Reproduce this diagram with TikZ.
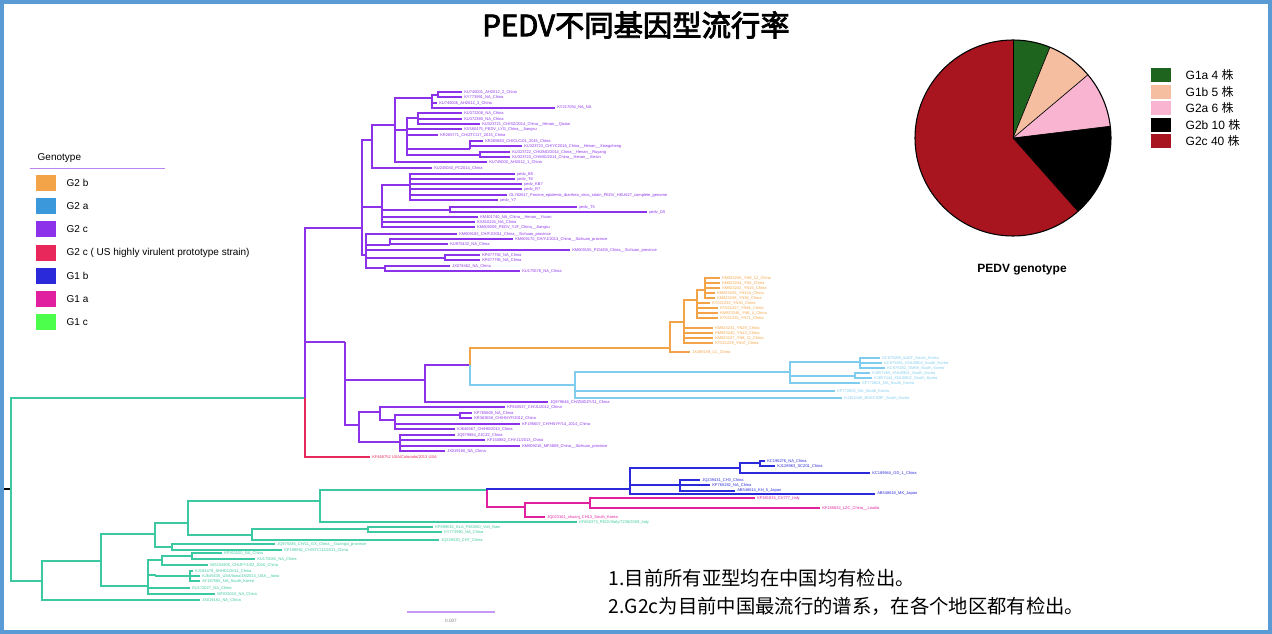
\documentclass[tikz,border=0pt]{standalone}
\usepackage{fontspec}
\setmainfont{Liberation Sans}
\newfontfamily\cjk{Noto Sans CJK SC}
\newfontfamily\cjkb{Noto Sans CJK SC}[FakeBold=3]
\definecolor{tl}{RGB}{60,200,160}
\definecolor{pu}{RGB}{140,50,235}
\definecolor{rd}{RGB}{232,40,90}
\definecolor{og}{RGB}{244,164,72}
\definecolor{lb}{RGB}{128,204,238}
\definecolor{bu}{RGB}{42,42,219}
\definecolor{mg}{RGB}{224,32,159}
\definecolor{gk}{RGB}{30,100,30}
\definecolor{pc}{RGB}{245,190,160}
\definecolor{pk}{RGB}{248,180,208}
\definecolor{dr}{RGB}{168,21,30}
\definecolor{frame}{RGB}{91,155,213}
\tikzset{br/.style={line width=1.4pt},lab/.style={font=\fontsize{3}{3.5}\selectfont,inner sep=1pt,anchor=west},
legbox/.style={minimum width=15pt,minimum height=12pt,inner sep=0pt},
legtxt/.style={font=\fontsize{7.5}{9}\selectfont,anchor=west}}
\newcommand\nd[5]{\draw[br,#1] (#2) |- (#3,#4) coordinate (#5);}
\newcommand\lf[5]{\draw[br,#1] (#2) |- (#3,#4) node[lab,text=#1] {#5};}
\begin{document}
\begin{tikzpicture}[x=0.75pt,y=-0.75pt]
\useasboundingbox (0,0) rectangle (1272,634);
\draw[frame,line width=2.5pt] (2,2) rectangle (1270,632);
\node[font=\cjkb\fontsize{22}{24}\selectfont] (title) at (636,25) {PEDV不同基因型流行率};
% left legend
\node[font=\fontsize{7.5}{9}\selectfont,anchor=west] (gt) at (33,158) {Genotype};
\draw[pu!60,line width=0.6pt] (30,168) -- (165,168);
\foreach \y/\c/\t [count=\i] in {183/og/G2 b,206/cyan!70!blue!80/G2 a,229/pu/G2 c,253/rd/{G2 c ( US highly virulent prototype strain)},276/bu/G1 b,299/mg/G1 a,322/green!70!white/G1 c}{
 \node[legbox,fill=\c] (lb\i) at (46,\y) {};
 \node[legtxt] (lt\i) at (62,\y) {\t};}
% tree
\coordinate (R) at (11,490);
\draw[line width=1.6pt] (4,489) -- (12,489);
\nd{tl}{R}{305}{398}{TP}
\nd{pu}{TP}{362}{228}{A0}
\lf{rd}{TP}{370}{457}{KF468752 USA/Colorado/2013 USA}
\nd{pu}{TP}{345}{342}{P0}
% clade A
\nd{pu}{A0}{372}{140}{A1}
\nd{pu}{A0}{382}{207}{A2}
\nd{pu}{A0}{366}{255}{A3}
\nd{pu}{A1}{395}{125}{B1}
\lf{pu}{A1}{432}{168}{KU245040\_PC2014\_China}
\nd{pu}{B1}{432}{98}{C1}
\nd{pu}{B1}{407}{130}{C2}
\lf{pu}{B1}{487}{162}{KU745000\_AH2012\_1\_China}
\nd{pu}{C1}{438}{95}{D1}
\lf{pu}{D1}{462}{92}{KU745001\_AH2012\_2\_China}
\lf{pu}{D1}{462}{97}{KY773991\_NA\_China}
\lf{pu}{C1}{437}{103}{KU745006\_AH2012\_3\_China}
\lf{pu}{C1}{555}{108}{KY217054\_NA\_NA}
\nd{pu}{C2}{418}{118}{D2}
\lf{pu}{D2}{462}{113}{KU372208\_NA\_China}
\lf{pu}{D2}{462}{119}{KU372380\_NA\_China}
\lf{pu}{D2}{480}{124}{KU323721\_CH/SZ/2014\_China\_\_Henan\_\_Qixian}
\lf{pu}{C2}{462}{129}{KX580475\_PEDV\_LYG\_China\_\_Jiangsu}
\lf{pu}{C2}{438}{135}{KR265771\_CH/ZTC/17\_2015\_China}
\nd{pu}{C2}{470}{149}{D3}
\lf{pu}{D3}{483}{141}{KR265863\_CH/CLC/01\_2015\_China}
\lf{pu}{D3}{522}{146}{KU323723\_CH/YC2016\_China\_\_Henan\_\_Xiangcheng}
\nd{pu}{C2}{480}{155}{D4}
\lf{pu}{D4}{510}{152}{KU323722\_CH/ZMD/2014\_China\_\_Henan\_\_Ruyang}
\lf{pu}{D4}{510}{157}{KU323723\_CH/MD/2014\_China\_\_Henan\_\_Xiexin}
\nd{pu}{A2}{410}{185}{E1}
\lf{pu}{E1}{515}{174}{pedv\_B5}
\lf{pu}{E1}{515}{179}{pedv\_T6}
\lf{pu}{E1}{522}{184}{pedv\_KB7}
\lf{pu}{E1}{522}{189}{pedv\_R7}
\lf{pu}{E1}{507}{195}{OL782617\_Porcine\_epidemic\_diarrhea\_virus\_strain\_PEDV\_HKU627\_complete\_genome}
\lf{pu}{E1}{498}{200}{pedv\_Y7}
\nd{pu}{A2}{450}{210}{E2}
\lf{pu}{E2}{577}{207}{pedv\_T5}
\lf{pu}{E2}{647}{212}{pedv\_D5}
\lf{pu}{A2}{478}{217}{KM401740\_NA\_China\_\_Henan\_\_Yixian}
\lf{pu}{A2}{475}{222}{KX810224\_NA\_China}
\lf{pu}{A2}{475}{227}{KM609209\_PEDV\_YJF\_China\_\_Jiangsu}
\lf{pu}{A3}{457}{234}{KM609183\_CH/FJ/2011\_China\_\_Sichuan\_province}
\nd{pu}{A3}{390}{245}{F1}
\lf{pu}{F1}{513}{239}{KM609170\_CH/YJ/2013\_China\_\_Sichuan\_province}
\lf{pu}{F1}{448}{244}{KU975432\_NA\_China}
\lf{pu}{A3}{570}{250}{KM609155\_PZ/4/08\_China\_\_Sichuan\_province}
\nd{pu}{A3}{445}{258}{F2}
\lf{pu}{F2}{480}{255}{KP677792\_NA\_China}
\lf{pu}{F2}{480}{260}{KP677795\_NA\_China}
\nd{pu}{A3}{385}{268}{F3}
\lf{pu}{F3}{450}{266}{JX078462\_NA\_China}
\lf{pu}{F3}{520}{271}{KU175578\_NA\_China}
% clade B
\nd{pu}{P0}{425}{380}{P1}
\nd{pu}{P0}{359}{425}{P2}
\nd{pu}{P1}{470}{365}{Q}
\lf{pu}{P1}{548}{402}{JQ979646\_CH/ZMDZY/11\_China}
\nd{og}{Q}{670}{348}{O0}
\nd{lb}{Q}{575}{385}{B0}
\lf{og}{O0}{690}{352}{JX489159\_LC\_China}
\nd{og}{O0}{684}{322}{O1}
\lf{og}{O1}{713}{328}{KM823241\_YN29\_China}
\lf{og}{O1}{713}{333}{KM823240\_YN13\_China}
\lf{og}{O1}{713}{338}{KM823247\_YN8\_11\_China}
\lf{og}{O1}{713}{343}{KT021229\_YN47\_China}
\nd{og}{O1}{697}{300}{O2}
\lf{og}{O2}{710}{303}{KT021232\_YN30\_China}
\lf{og}{O2}{718}{308}{KT021227\_YN61\_China}
\lf{og}{O2}{718}{313}{KM823246\_YN8\_4\_China}
\lf{og}{O2}{718}{318}{KT021230\_YN71\_China}
\nd{og}{O2}{705}{290}{O3}
\lf{og}{O3}{720}{278}{KM823245\_YN8\_12\_China}
\lf{og}{O3}{720}{283}{KM823244\_YN2\_China}
\lf{og}{O3}{720}{288}{KM823242\_YN15\_China}
\lf{og}{O3}{715}{293}{KM823243\_YN144\_China}
\lf{og}{O3}{715}{298}{KM823249\_YN36\_China}
\nd{lb}{B0}{790}{372}{B1b}
\lf{lb}{B0}{835}{391}{KF772602\_NA\_South\_Korea}
\lf{lb}{B0}{842}{398}{KJ451046\_BOECSRF\_South\_Korea}
\nd{lb}{B1b}{860}{362}{B2}
\lf{lb}{B2}{880}{358}{KC879280\_8aDT\_South\_Korea}
\lf{lb}{B2}{882}{363}{KC879281\_KNU0802\_South\_Korea}
\lf{lb}{B2}{885}{368}{KC879282\_SM98\_South\_Korea}
\nd{lb}{B1b}{855}{376}{B3}
\lf{lb}{B3}{870}{373}{KJ857455\_KNU0901\_South\_Korea}
\lf{lb}{B3}{872}{378}{KJ857444\_KNU0902\_South\_Korea}
\lf{lb}{B1b}{860}{383}{KF772601\_NA\_South\_Korea}
\nd{pu}{P2}{380}{412}{S1}
\nd{pu}{P2}{400}{442}{S2}
\lf{pu}{S1}{505}{407}{KF840537\_CH/JL/2012\_China}
\nd{pu}{S1}{395}{420}{S3}
\nd{pu}{S3}{460}{415}{T}
\lf{pu}{T}{472}{413}{KP765609\_NA\_China}
\lf{pu}{T}{472}{418}{KR363658\_CH/HNYF/2012\_China}
\lf{pu}{S3}{520}{424}{KF195607\_CH/HNYF/14\_2014\_China}
\lf{pu}{S3}{455}{429}{KJ646567\_CH/HB/2013\_China}
\lf{pu}{S2}{455}{435}{JQ979884\_ZJCZ2\_China}
\lf{pu}{S2}{485}{440}{KF150882\_CHYJ1/2013\_China}
\lf{pu}{S2}{520}{446}{KM609216\_MF3809\_China\_\_Sichuan\_province}
\lf{pu}{S2}{445}{451}{JX019180\_NA\_China}
% G1 clades
\nd{tl}{R}{42}{581}{G0}
\nd{tl}{G0}{101}{561}{G1}
\lf{tl}{G0}{200}{600}{JX019181\_NA\_China}
\nd{tl}{G1}{155}{534}{G2}
\nd{tl}{G1}{148}{586}{H}
\nd{tl}{G2}{188}{523}{G3}
\nd{tl}{G2}{172}{547}{G4}
\nd{tl}{G3}{320}{501}{G5}
\nd{tl}{G3}{252}{535}{G6}
\nd{tl}{G5}{487}{490}{G7}
\lf{tl}{G5}{577}{522}{KF650373\_PEDV/Italy/7239/2009\_Italy}
\nd{bu}{G7}{630}{489}{N}
\nd{mg}{G7}{525}{507}{M}
\nd{tl}{G6}{368}{529}{G8}
\lf{tl}{G6}{439}{540}{JQ239430\_CH7\_China}
\lf{tl}{G8}{433}{527}{KP699015\_KLA\_PED080\_Viet\_Nam}
\lf{tl}{G8}{442}{532}{KY773990\_NA\_China}
\lf{tl}{G4}{275}{544}{JQ979285\_CH/11\_GX\_China\_\_Guangxi\_province}
\lf{tl}{G4}{282}{550}{KP198692\_CH/STC/12/2011\_China}
\nd{tl}{H}{162}{560}{h1}
\nd{tl}{H}{156}{575}{h2}
\lf{tl}{H}{190}{588}{EU172027\_NA\_China}
\lf{tl}{H}{215}{594}{MF033010\_NA\_China}
\nd{tl}{h1}{192}{556}{h3}
\lf{tl}{h3}{222}{553}{KP911520\_NA\_China}
\lf{tl}{h3}{255}{559}{KU170082\_NA\_China}
\lf{tl}{h1}{208}{565}{MG334905\_CH/JPY1/02\_2016\_China}
\nd{tl}{h2}{190}{576}{h4}
\lf{tl}{h4}{193}{571}{KJ184479\_SHHD1/2011\_China}
\lf{tl}{h4}{200}{576}{KJ645635\_USA/Iowa/18/2013\_USA\_\_Iowa}
\lf{tl}{h4}{200}{581}{AY167585\_NA\_South\_Korea}
% blue / magenta
\nd{bu}{N}{740}{468}{N1}
\nd{bu}{N}{680}{485}{N3}
\lf{bu}{N}{875}{494}{AB548618\_MK\_Japan}
\lf{bu}{N1}{870}{473}{KC189944\_GD\_1\_China}
\nd{bu}{N1}{760}{463}{N4}
\lf{bu}{N4}{765}{461}{KC196276\_NA\_China}
\lf{bu}{N4}{775}{466}{KJ128963\_SCZ01\_China}
\lf{bu}{N3}{700}{480}{JQ239431\_CH3\_China}
\lf{bu}{N3}{710}{485}{KP765282\_NA\_China}
\lf{bu}{N3}{735}{491}{AB548614\_KH\_5\_Japan}
\lf{mg}{M}{545}{517}{JQ023161\_shuanj\_CH13\_South\_Korea}
\nd{mg}{M}{590}{503}{M2}
\lf{mg}{M2}{755}{498}{KF381815\_CV777\_Italy}
\lf{mg}{M2}{820}{508}{KF185832\_LZC\_China\_\_Liaolia}
% scale bar
\coordinate (sb1) at (407,612); \coordinate (sb2) at (495,612);
\draw[pu!50,line width=0.8pt] (sb1) -- (sb2);
\node[font=\fontsize{3.5}{4}\selectfont,text=gray] (sbt) at (451,621) {0.007};
% pie
\coordinate (C) at (1013,138);
\fill[gk] (C) -- ++(90:73.5pt) arc[start angle=90,end angle=67.85,radius=73.5pt] -- cycle;
\fill[pc] (C) -- ++(67.85:73.5pt) arc[start angle=67.85,end angle=40.15,radius=73.5pt] -- cycle;
\fill[pk] (C) -- ++(40.15:73.5pt) arc[start angle=40.15,end angle=6.9,radius=73.5pt] -- cycle;
\fill[black] (C) -- ++(6.9:73.5pt) arc[start angle=6.9,end angle=-48.5,radius=73.5pt] -- cycle;
\fill[dr] (C) -- ++(-48.5:73.5pt) arc[start angle=-48.5,end angle=-270,radius=73.5pt] -- cycle;
\draw[black,line width=0.8pt] (C) circle[radius=73.5pt];
\foreach \a in {90,67.85,40.15,6.9,-48.5} \draw[black,line width=0.5pt] (C) -- ++(\a:73.5pt);
\node[font=\bfseries\fontsize{9}{10}\selectfont] (pt) at (1022,270) {PEDV genotype};
\foreach \y/\c/\t [count=\i] in {75/gk/G1a 4,92/pc/G1b 5,108/pk/G2a 6,125/black/G2b 10,141/dr/G2c 40}{
 \node[legbox,minimum height=11pt,fill=\c] (pb\i) at (1161,\y) {};
 \node[legtxt,font=\fontsize{9}{10}\selectfont] (pl\i) at (1181,\y) {\t\ {\cjk 株}};}
% notes
\node[anchor=west,font=\cjk\fontsize{14.5}{16}\selectfont] (n1) at (604,578) {1.目前所有亚型均在中国均有检出。};
\node[anchor=west,font=\cjk\fontsize{14.5}{16}\selectfont] (n2) at (604,606) {2.G2c为目前中国最流行的谱系，在各个地区都有检出。};
\end{tikzpicture}
\end{document}
